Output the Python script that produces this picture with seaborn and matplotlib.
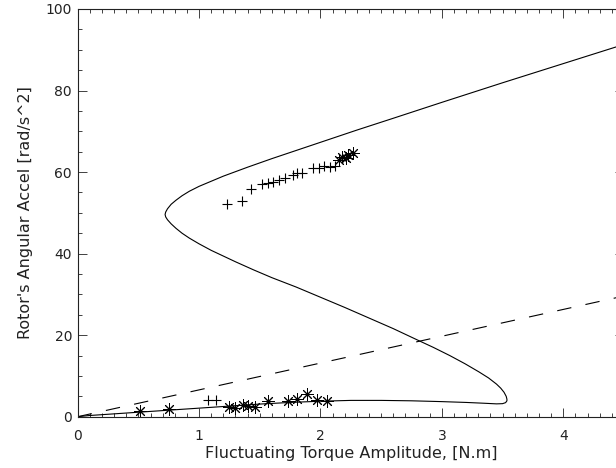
#!/usr/bin/env python3

import numpy as np
import matplotlib
matplotlib.use('Agg')
import matplotlib.pyplot as plt
from matplotlib.ticker import MultipleLocator
import seaborn as sns

SET_DPI = 100
FIGSIZE = (6.16, 4.68)
INK = '#222222'

# S-shaped response curve: lower branch -> tip -> middle branch -> upper branch
CURVE_X = [0.00, 0.10, 0.25, 0.50, 0.75, 1.00, 1.25, 1.50, 1.75, 2.00,
           2.25, 2.50, 2.75, 3.00, 3.20, 3.35, 3.45, 3.50, 3.525, 3.536,
           3.536, 3.530, 3.512, 3.485, 3.45, 3.385, 3.305, 3.19, 3.065, 2.93,
           2.80, 2.60, 2.40, 2.20, 2.00, 1.80, 1.60, 1.45, 1.30, 1.20,
           1.10, 1.00, 0.92, 0.86, 0.81, 0.77, 0.74, 0.725, 0.72,
           0.725, 0.74, 0.77, 0.81, 0.86, 0.92, 1.00, 1.20, 1.40, 1.60,
           1.80, 2.00, 2.30, 2.60, 3.00, 3.50, 4.00, 4.50]
CURVE_Y = [0.0, 0.3, 0.6, 1.1, 1.6, 2.1, 2.6, 3.1, 3.5, 3.8,
           4.0, 4.0, 3.9, 3.7, 3.5, 3.3, 3.15, 3.2, 3.45, 3.9,
           4.3, 5.0, 6.0, 7.0, 8.0, 9.5, 11.0, 13.0, 15.0, 17.0,
           18.8, 21.6, 24.2, 26.8, 29.3, 31.8, 34.1, 36.0, 38.0, 39.4,
           40.8, 42.4, 43.8, 45.0, 46.2, 47.3, 48.3, 49.0, 49.6,
           50.2, 51.0, 52.1, 53.1, 54.2, 55.3, 56.5, 59.0, 61.2, 63.3,
           65.3, 67.3, 70.3, 73.2, 77.1, 81.9, 86.6, 91.3]

# dashed reference line
DASH_X = [0.0, 4.5]
DASH_Y = [0.0, 29.6]

# measured points, '+' symbols
PLUS_X = [1.23, 1.35, 1.43, 1.52, 1.57, 1.61, 1.66, 1.71, 1.77, 1.81,
          1.85, 1.94, 1.99, 2.03, 2.08, 2.12, 1.07, 1.14]
PLUS_Y = [52.2, 53.0, 55.9, 57.1, 57.3, 57.6, 58.0, 58.6, 59.4, 59.8,
          59.7, 61.1, 61.0, 61.4, 61.3, 61.4, 4.0, 4.0]

# measured points, '*' symbols
STAR_X = [2.15, 2.18, 2.21, 2.23, 2.27,
          0.51, 0.75, 1.25, 1.30, 1.36, 1.40, 1.46, 1.57, 1.73, 1.81,
          1.89, 1.97, 2.05]
STAR_Y = [63.0, 63.8, 63.5, 64.1, 64.7,
          1.4, 1.9, 2.5, 2.2, 2.8, 2.7, 2.5, 3.9, 3.8, 4.3,
          5.5, 4.2, 3.9]


def plot_response():
    sns.set_style('ticks')
    plt.rcParams['font.family'] = ['DejaVu Sans']

    fig = plt.figure(figsize=FIGSIZE, dpi=SET_DPI)
    ax = fig.add_axes([0.1261, 0.1096, 0.8868, 0.8712])

    sns.lineplot(x=CURVE_X, y=CURVE_Y, sort=False, estimator=None,
                 color='black', linewidth=0.8, ax=ax)
    sns.lineplot(x=DASH_X, y=DASH_Y, sort=False, estimator=None,
                 color='black', linewidth=0.8, dashes=False, ax=ax)
    ax.lines[-1].set_dashes((13, 13))

    sns.scatterplot(x=PLUS_X, y=PLUS_Y, marker='+', s=55, color='black',
                    linewidth=0.8, ax=ax)
    sns.scatterplot(x=STAR_X, y=STAR_Y, marker=(8, 2, 0), s=70,
                    color='black', linewidth=0.7, ax=ax)

    ax.set_xlim(0, 4.5)
    ax.set_ylim(0, 100)
    ax.xaxis.set_major_locator(MultipleLocator(1))
    ax.xaxis.set_minor_locator(MultipleLocator(0.1))
    ax.yaxis.set_major_locator(MultipleLocator(20))
    ax.yaxis.set_minor_locator(MultipleLocator(5))

    for side in ['left', 'right', 'top', 'bottom']:
        ax.spines[side].set_visible(True)
        ax.spines[side].set_color(INK)
        ax.spines[side].set_linewidth(0.8)

    ax.tick_params(which='both', direction='in', top=True, right=True,
                   color=INK, width=0.6, labelcolor=INK, labelsize=10)
    ax.tick_params(which='major', length=6.5)
    ax.tick_params(which='minor', length=3)
    ax.tick_params(axis='x', which='major', pad=9)
    ax.tick_params(axis='y', which='major', pad=4)

    ax.set_xlabel('Fluctuating Torque Amplitude, [N.m]', fontsize=11.5,
                  color=INK, labelpad=2)
    ax.set_ylabel("Rotor's Angular Accel [rad/s^2]", fontsize=11.5,
                  color=INK, labelpad=9)

    fig.savefig('out.png', dpi=SET_DPI)
    plt.close(fig)


if __name__ == '__main__':
    plot_response()
